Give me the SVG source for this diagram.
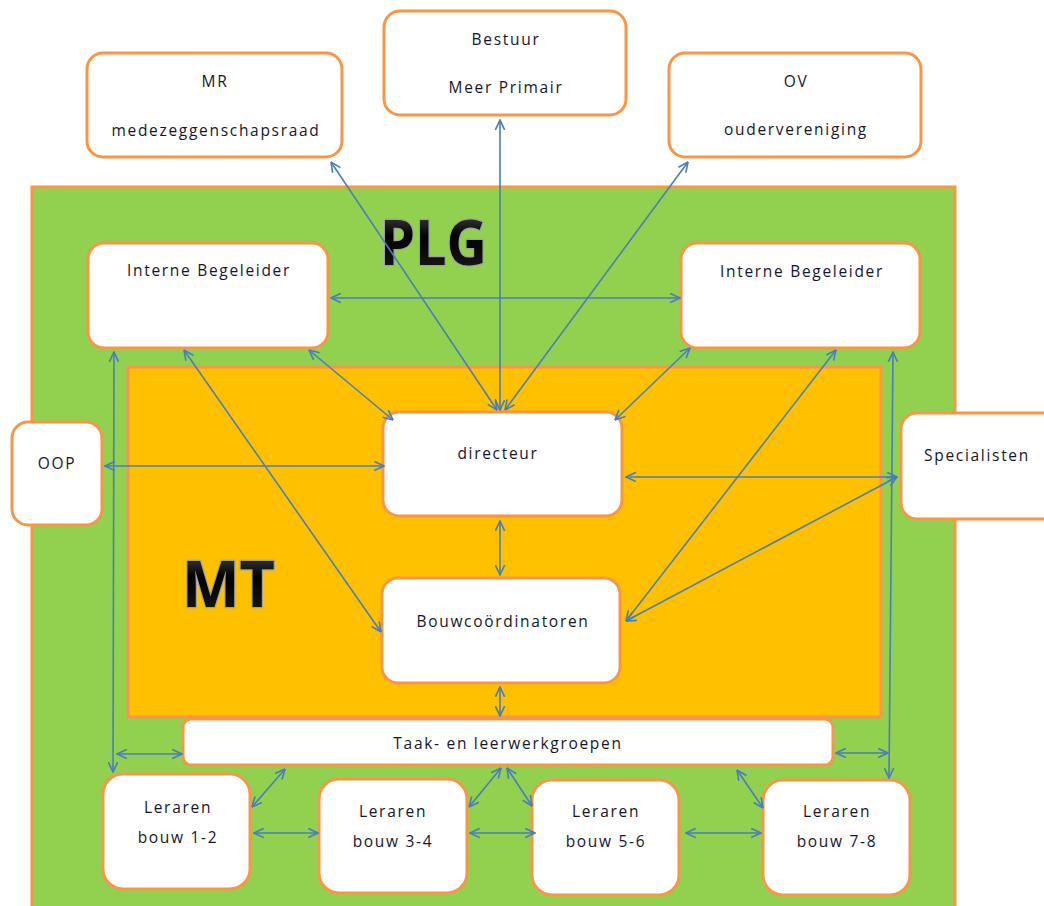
<svg xmlns="http://www.w3.org/2000/svg" width="1044" height="906" viewBox="0 0 1044 906">
<defs>
<style>
.box{fill:#fff;stroke:#f79646;stroke-width:3}
.t{font-family:"Open Sans","Liberation Sans",sans-serif;font-size:15.5px;fill:#16162a;text-anchor:middle;letter-spacing:1.7px}
.big{font-family:"Open Sans","Liberation Sans",sans-serif;font-weight:bold;fill:url(#gr);stroke:#a0a0a0;stroke-width:2.5;paint-order:stroke;}
.c{stroke:#4a7ebb;stroke-width:1.6;fill:none;marker-start:url(#ah);marker-end:url(#ah)}
</style>
<linearGradient id="gr" x1="0" y1="0" x2="0" y2="1">
<stop offset="0" stop-color="#6a6a6a"/>
<stop offset="0.45" stop-color="#000"/>
<stop offset="1" stop-color="#222"/>
</linearGradient>
<marker id="ah" viewBox="0 0 10 10" refX="9.5" refY="5" markerWidth="11" markerHeight="11" markerUnits="userSpaceOnUse" orient="auto-start-reverse">
<path d="M0.5,0.8 L9.5,5 L0.5,9.2" fill="none" stroke="#4a7ebb" stroke-width="1.5"/>
</marker>
</defs>
<rect width="1044" height="906" fill="#fff"/>
<g id="plg-area">
<rect x="32" y="187" width="923" height="740" fill="#92d050" stroke="#f79646" stroke-width="3"/>
<text class="big" x="380" y="265" font-size="63" textLength="107" lengthAdjust="spacingAndGlyphs">PLG</text>
</g>
<g id="mt-area">
<rect x="128" y="367" width="753" height="350" fill="#ffc000" stroke="#f79646" stroke-width="3"/>
<text class="big" x="182" y="607" font-size="65" textLength="93" lengthAdjust="spacingAndGlyphs">MT</text>
</g>
<g id="mr"><rect class="box" x="87" y="53" width="255" height="104" rx="16"/><text class="t" x="215" y="87">MR</text><text class="t" x="216" y="136">medezeggenschapsraad</text></g>
<g id="bestuur"><rect class="box" x="384" y="11" width="242" height="104" rx="16"/><text class="t" x="506" y="45">Bestuur</text><text class="t" x="506" y="93">Meer Primair</text></g>
<g id="ov"><rect class="box" x="669" y="53" width="252" height="104" rx="16"/><text class="t" x="796" y="87">OV</text><text class="t" x="796" y="135">oudervereniging</text></g>
<g id="ib-left"><rect class="box" x="88" y="243" width="240" height="105" rx="16"/><text class="t" x="209" y="276">Interne Begeleider</text></g>
<g id="ib-right"><rect class="box" x="681" y="243" width="239" height="105" rx="16"/><text class="t" x="802" y="277">Interne Begeleider</text></g>
<g id="oop"><rect class="box" x="12" y="422" width="90" height="103" rx="16"/><text class="t" x="57" y="469">OOP</text></g>
<g id="specialisten"><rect class="box" x="901" y="413" width="160" height="106" rx="16"/><text class="t" x="977" y="461">Specialisten</text></g>
<g id="directeur"><rect class="box" x="383" y="412" width="239" height="104" rx="16"/><text class="t" x="498" y="459">directeur</text></g>
<g id="bouwcoordinatoren"><rect class="box" x="382" y="578" width="238" height="105" rx="16"/><text class="t" x="503" y="627">Bouwcoördinatoren</text></g>
<g id="taak"><rect class="box" x="183" y="719" width="650" height="46" rx="8"/><text class="t" x="508" y="749">Taak- en leerwerkgroepen</text></g>
<g id="leraren12"><rect class="box" x="103" y="774" width="147" height="115" rx="20"/><text class="t" x="178" y="813">Leraren</text><text class="t" x="178" y="843">bouw 1-2</text></g>
<g id="leraren34"><rect class="box" x="319" y="779" width="148" height="114" rx="20"/><text class="t" x="393" y="817">Leraren</text><text class="t" x="393" y="847">bouw 3-4</text></g>
<g id="leraren56"><rect class="box" x="532" y="780" width="147" height="115" rx="20"/><text class="t" x="606" y="817">Leraren</text><text class="t" x="606" y="847">bouw 5-6</text></g>
<g id="leraren78"><rect class="box" x="763" y="780" width="147" height="115" rx="20"/><text class="t" x="837" y="817">Leraren</text><text class="t" x="837" y="847">bouw 7-8</text></g>
<g id="connectors">
<path class="c" d="M331,162 L497,410"/>
<path class="c" d="M500,120 L500,410"/>
<path class="c" d="M688,162 L505,410"/>
<path class="c" d="M331,298 L680,298"/>
<path class="c" d="M309,350 L393,420"/>
<path class="c" d="M690,348 L615,420"/>
<path class="c" d="M184,350 L381,632"/>
<path class="c" d="M836,350 L626,621"/>
<path class="c" d="M897,477 L626,621"/>
<path class="c" d="M626,477 L897,477"/>
<path class="c" d="M105,466 L384,466"/>
<path class="c" d="M114,352 L113,772"/>
<path class="c" d="M893,352 L889,778"/>
<path class="c" d="M500,521 L500,575"/>
<path class="c" d="M500,687 L500,716"/>
<path class="c" d="M117,754 L182,754"/>
<path class="c" d="M836,753 L888,753"/>
<path class="c" d="M285,769 L252,807"/>
<path class="c" d="M501,768 L469,807"/>
<path class="c" d="M507,768 L532,806"/>
<path class="c" d="M737,770 L763,808"/>
<path class="c" d="M254,833 L318,833"/>
<path class="c" d="M470,833 L535,833"/>
<path class="c" d="M686,833 L761,833"/>
</g>
</svg>
